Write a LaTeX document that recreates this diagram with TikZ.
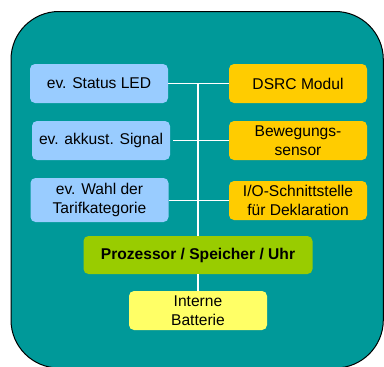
\documentclass[tikz,border=0pt]{standalone}
\usepackage{fontspec}
\setmainfont{Liberation Sans}
\definecolor{bgteal}{HTML}{009999}
\definecolor{boxblue}{HTML}{99CCFF}
\definecolor{boxorange}{HTML}{FFCC00}
\definecolor{boxgreen}{HTML}{99CC00}
\definecolor{boxyellow}{HTML}{FFFF66}
\tikzset{
  unit/.style={rounded corners=5pt,minimum width=138pt,minimum height=39pt,
    align=center,inner sep=1pt,font=\fontsize{15.6}{19}\selectfont},
  bus/.style={white,line width=1.5pt}
}
\begin{document}
\begin{tikzpicture}[x=1pt,y=-1pt]
\useasboundingbox (0,0) rectangle (384,367);
\clip (0,0) rectangle (384,367);
\draw[fill=bgteal,line width=1pt,rounded corners=48pt] (11,11.5) rectangle (383.3,368);
% linke Spalte
\node[unit,fill=boxblue] (led) at (99,83.5) {ev. Status LED};
\node[unit,fill=boxblue] (signal) at (101,140.5) {ev. akkust. Signal};
\node[unit,fill=boxblue,minimum height=44pt] (wahl) at (99.5,200) {ev. Wahl der\\Tarifkategorie};
% rechte Spalte
\node[unit,fill=boxorange] (dsrc) at (298,83.5) {DSRC Modul};
\node[unit,fill=boxorange] (sensor) at (298,140.5) {Bewegungs-\\sensor};
\node[unit,fill=boxorange] (io) at (298,200.5) {I/O-Schnittstelle\\für Deklaration};
% Mitte
\node[unit,fill=boxgreen,minimum width=229pt,minimum height=38pt,font=\fontsize{15.6}{19}\selectfont\bfseries] (cpu) at (198,255) {Prozessor / Speicher / Uhr};
\node[unit,fill=boxyellow] (batt) at (198,310.5) {Interne\\Batterie};
% Verbindungen
\draw[bus] (led.east) -- (dsrc.west);
\draw[bus,shorten <=3pt] (signal.east) -- (sensor.west);
\draw[bus] (wahl.east |- io.west) -- (io.west);
\draw[bus] (led.east -| cpu.north) -- (cpu.north);
\draw[bus] (cpu.south) -- (batt.north);
\end{tikzpicture}
\end{document}
